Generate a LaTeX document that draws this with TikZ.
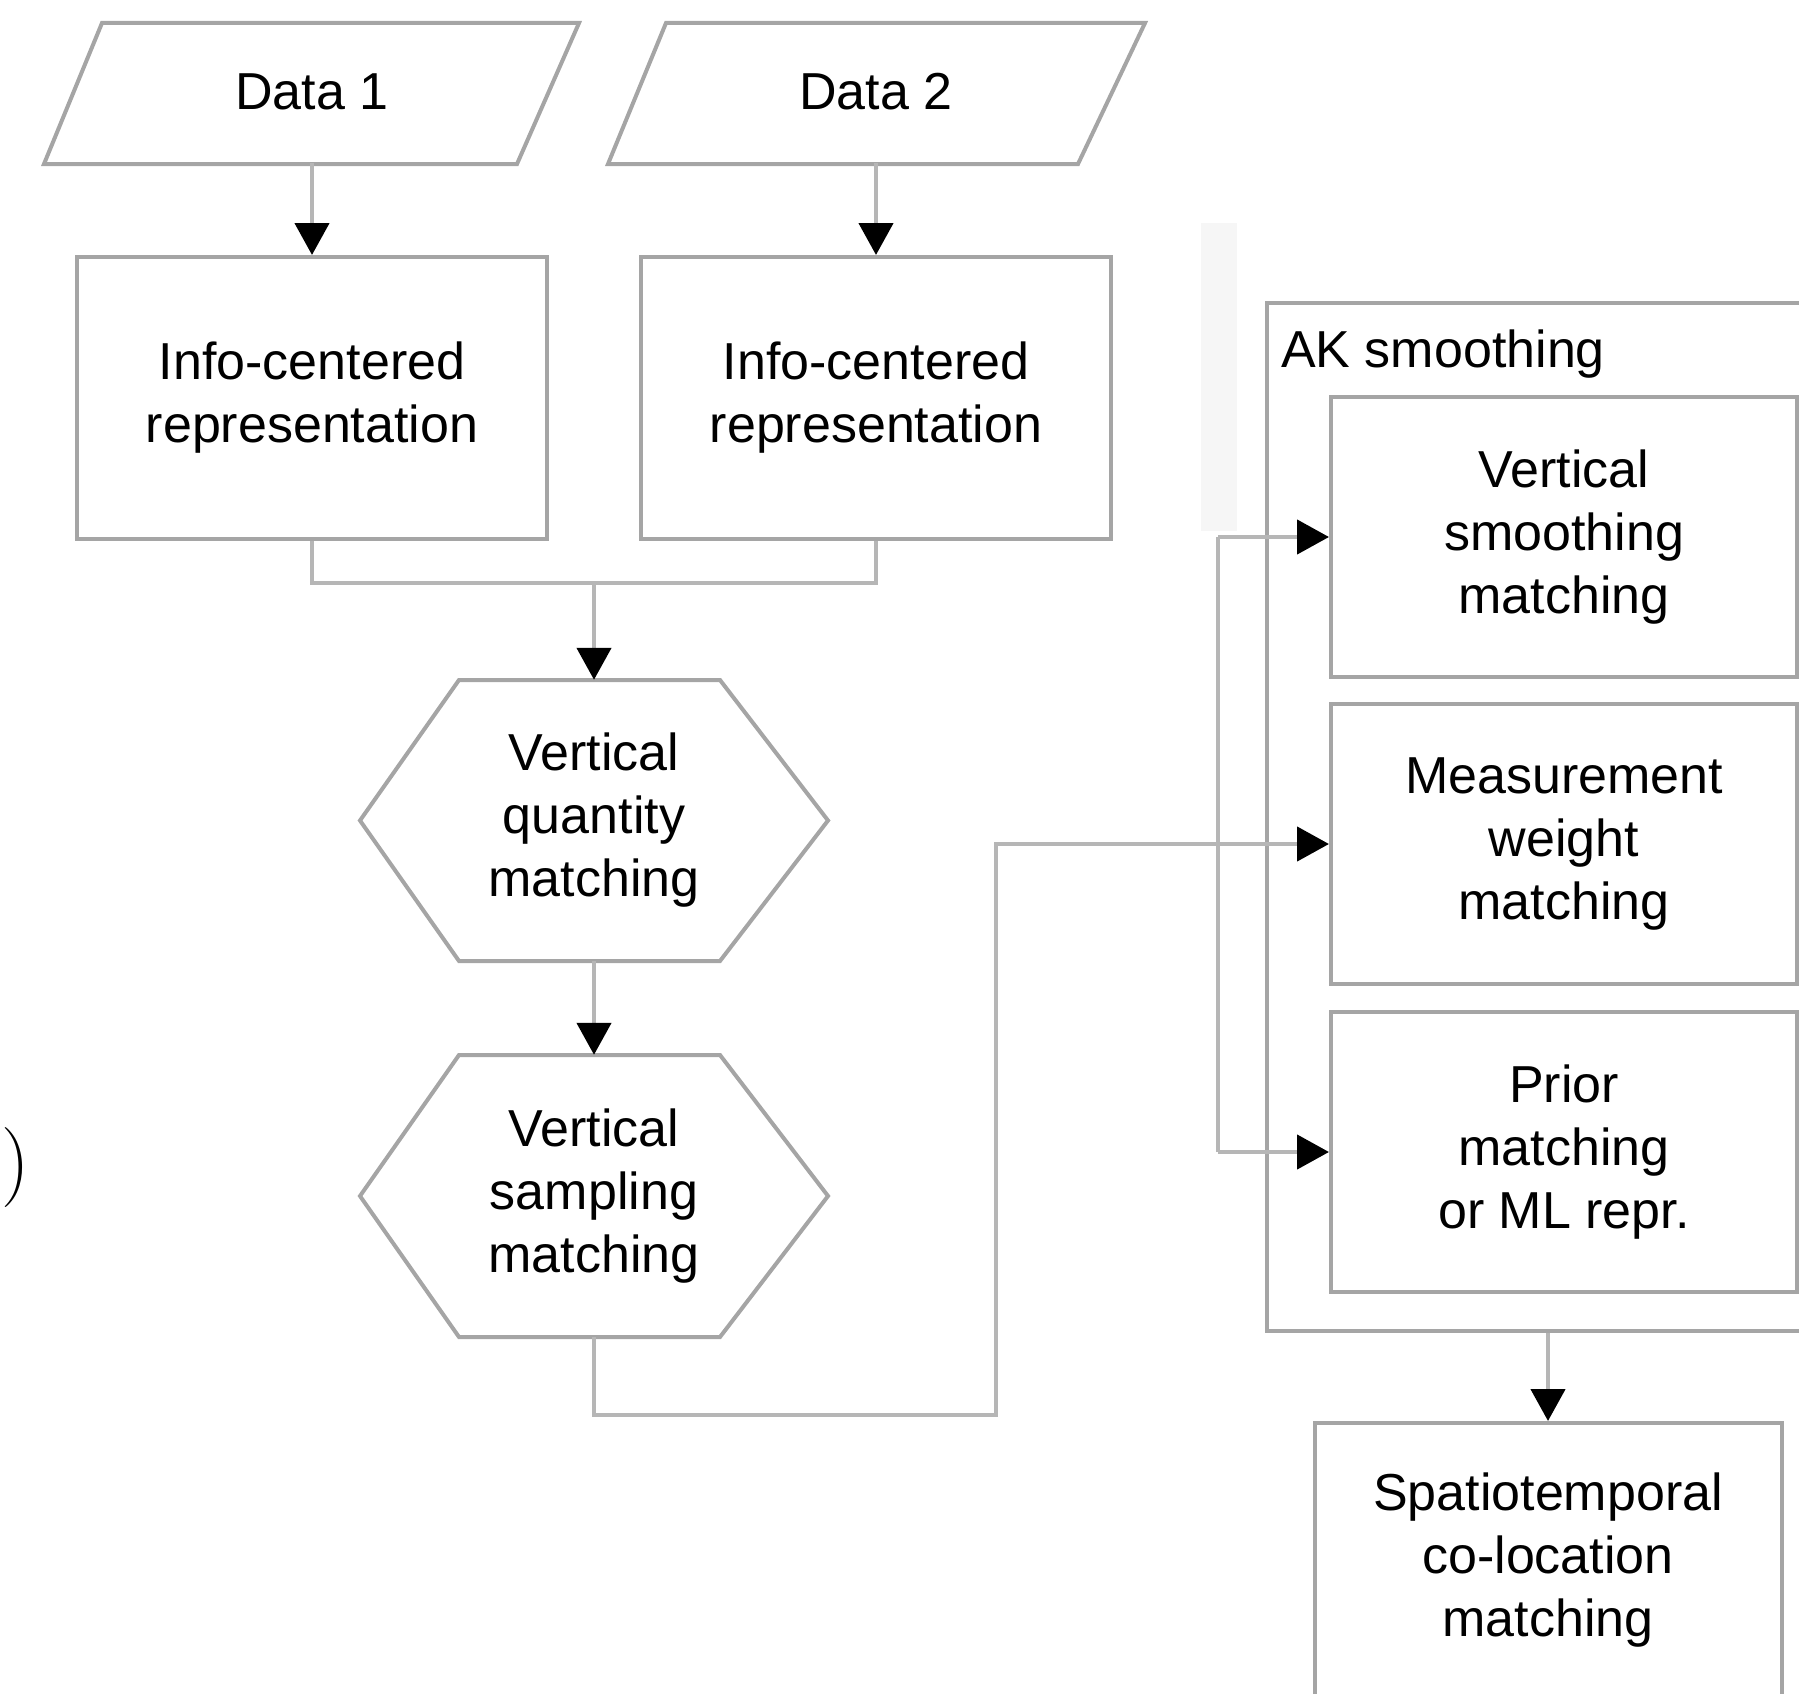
\documentclass[tikz,border=0pt]{standalone}
\usepackage{fontspec}
\newfontfamily\arialf{Liberation Sans}
\usetikzlibrary{arrows.meta}
\definecolor{edgegray}{RGB}{165,165,165}
\definecolor{linegray}{RGB}{182,182,182}
\definecolor{faint}{RGB}{246,246,246}
\newcommand\txtfont{\arialf\fontsize{52}{63}\selectfont}
\tikzset{
  boxnode/.style={draw=edgegray,line width=4pt,inner sep=0pt,align=center,font=\txtfont},
  shapeline/.style={draw=edgegray,line width=4pt,line join=miter},
  conn/.style={draw=linegray,line width=4.5pt},
  arr/.style={conn,-{Triangle[length=32pt,width=34pt,color=black,fill=black]}},
  lbl/.style={align=center,font=\txtfont,inner sep=0pt}
}
\begin{document}
\begin{tikzpicture}[x=1pt,y=-1pt]
\useasboundingbox (0,0) rectangle (1799,1694);
\fill[faint] (1201,223) rectangle (1237,531);

% inputs
\node[lbl,minimum width=474pt,minimum height=141pt] (d1) at (312,92) {Data 1};
\draw[shapeline] (102,23) -- (579,23) -- (517,164) -- (44,164) -- cycle;
\node[lbl,minimum width=474pt,minimum height=141pt] (d2) at (876,92) {Data 2};
\draw[shapeline] (666,23) -- (1145,23) -- (1078,164) -- (608,164) -- cycle;

\node[boxnode,minimum width=470pt,minimum height=282pt] (b1) at (312,398) {\raisebox{-3pt}{\begin{tabular}{@{}c@{}}Info-centered\\representation\end{tabular}}};
\node[boxnode,minimum width=470pt,minimum height=282pt] (b2) at (876,398) {\raisebox{-3pt}{\begin{tabular}{@{}c@{}}Info-centered\\representation\end{tabular}}};

\draw[arr] (d1.south) -- (b1.north);
\draw[arr] (d2.south) -- (b2.north);

% hexagons
\node[lbl,minimum width=468pt,minimum height=281pt] (h1) at (594,820.5) {Vertical\\quantity\\matching};
\draw[shapeline] (360,820.5) -- (459,680) -- (720,680) -- (828,820.5) -- (720,961) -- (459,961) -- cycle;
\node[lbl,minimum width=468pt,minimum height=282pt] (h2) at (594,1196) {Vertical\\sampling\\matching};
\draw[shapeline] (360,1196) -- (459,1055) -- (720,1055) -- (828,1196) -- (720,1337) -- (459,1337) -- cycle;

\coordinate (m) at (594,583);
\draw[conn] (b1.south) |- (m) -| (b2.south);
\draw[arr] (m) -- (h1.north);
\draw[arr] (h1.south) -- (h2.north);

% AK smoothing group
\node[draw=edgegray,line width=4pt,inner sep=0pt,minimum width=563pt,minimum height=1028pt] (ak) at (1548,817) {};
\node[lbl,anchor=base west] (akl) at (1281,367) {AK smoothing};
\node[boxnode,minimum width=466pt,minimum height=280pt] (mA) at (1564,537) {Vertical\\smoothing\\matching};
\node[boxnode,minimum width=466pt,minimum height=280pt] (mB) at (1564,844) {Measurement\\weight\\matching};
\node[boxnode,minimum width=466pt,minimum height=280pt] (mC) at (1564,1152) {Prior\\matching\\or ML repr.};

\coordinate (c1) at (996,1415);
\coordinate (c2) at (1218,844);
\coordinate (bt) at (1218,537);
\coordinate (bb) at (1218,1152);
\draw[conn] (h2.south) |- (c1) |- (c2);
\draw[conn] (bt) -- (bb);
\draw[arr] (bt) -- (mA.west);
\draw[arr] (c2) -- (mB.west);
\draw[arr] (bb) -- (mC.west);

\node[boxnode,minimum width=467pt,minimum height=274pt] (sp) at (1548,1560) {Spatiotemporal\\co-location\\matching};
\draw[arr] (ak.south) -- (sp.north);

\node[inner sep=0pt,font=\fontsize{80}{80}\selectfont] (paren) at (16,1168) {)};
\end{tikzpicture}
\end{document}
